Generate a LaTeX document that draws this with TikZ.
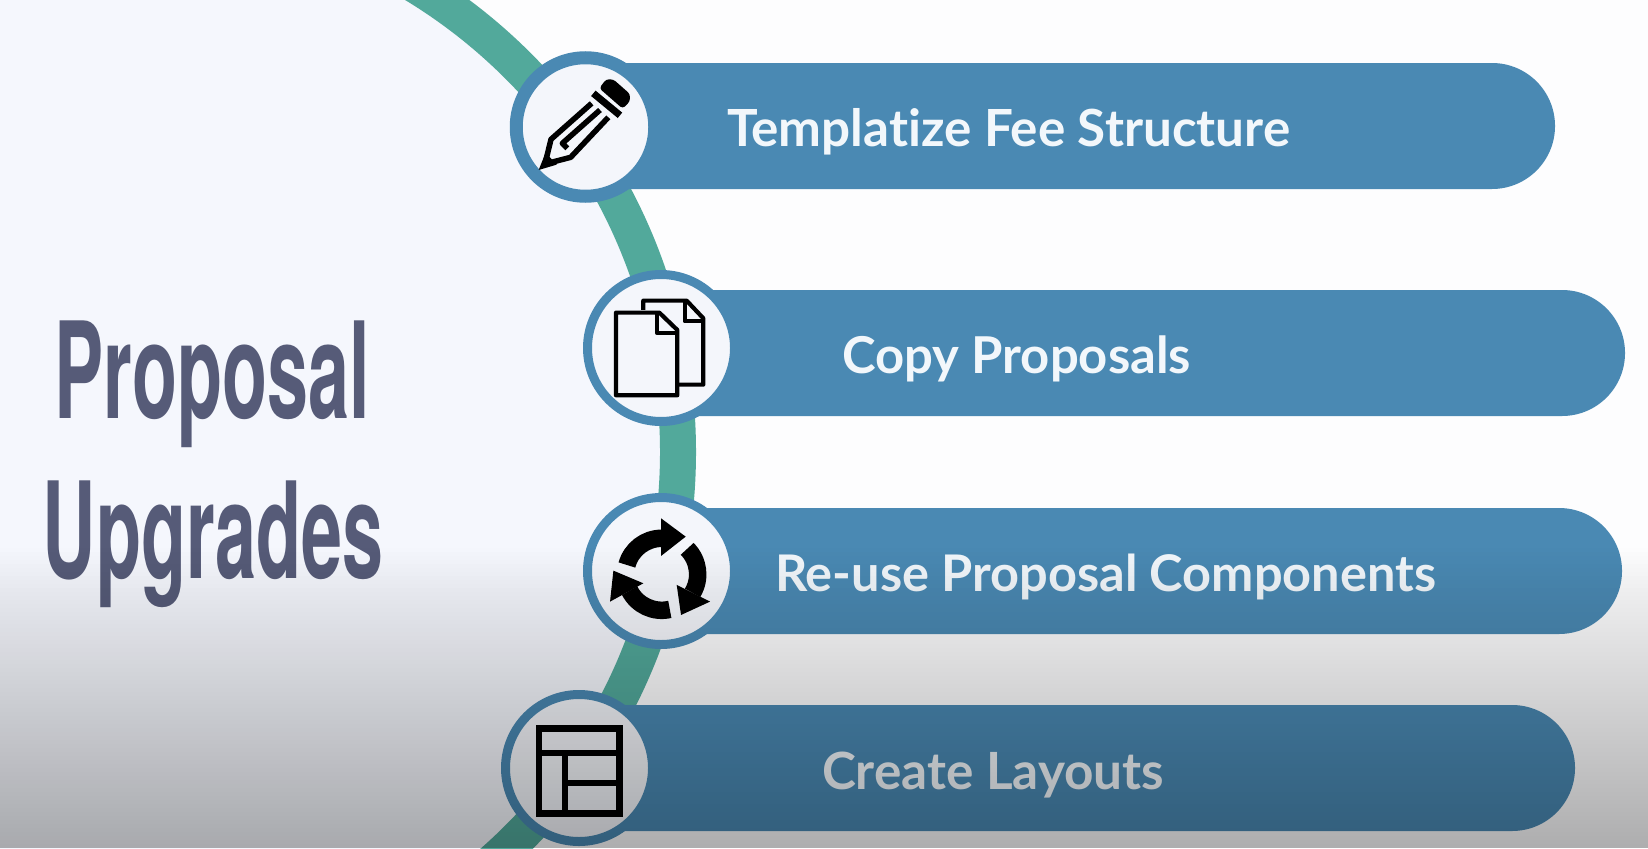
\documentclass[tikz,border=0pt]{standalone}
\usepackage{fontspec}
\usetikzlibrary{shapes.misc}
\newfontfamily\labfont[Ligatures=NoCommon]{Lato}
\newfontfamily\titlefont[FakeStretch=0.55]{TeX Gyre Heros}
\definecolor{bgright}{HTML}{FDFDFE}
\definecolor{bgleft}{HTML}{F5F7FD}
\definecolor{teal}{HTML}{52A99B}
\definecolor{barblue}{HTML}{4A89B3}
\definecolor{disc}{HTML}{F4F6FB}
\definecolor{titlecol}{HTML}{565B78}
\definecolor{labcol}{HTML}{F2F7FB}
\tikzset{
  barshape/.style={rounded rectangle, rounded rectangle left arc=none, fill=barblue, minimum height=126bp, inner sep=0pt, outer sep=0pt},
  ring/.style={circle, draw=barblue, fill=disc, inner sep=0pt, outer sep=0pt},
  barlabel/.style={anchor=base west, inner sep=0pt, outer sep=0pt, text=labcol, font=\labfont\bfseries\fontsize{#1}{60bp}\selectfont},
  titlelabel/.style={anchor=base, inner sep=0pt, outer sep=0pt, text=titlecol, font=\titlefont\bfseries\fontsize{134bp}{150bp}\selectfont},
  iconline/.style={draw=black, line join=round, fill=none}
}
\begin{document}
\begin{tikzpicture}[x=1bp,y=-1bp]
\useasboundingbox (0,0) rectangle (1648,848);
\fill[bgright] (0,0) rectangle (1648,848);
% big circle
\begin{scope}
\clip (0,0) rectangle (1648,848);
\path[fill=bgleft, draw=teal, line width=36bp] (132,452) circle[radius=546bp];
\end{scope}
% bars
\node[barshape, anchor=west, minimum width=969bp] (bar1) at (586,126) {};
\node[barshape, anchor=west, minimum width=964bp] (bar2) at (661,353) {};
\node[barshape, anchor=west, minimum width=961bp] (bar3) at (661,571) {};
\node[barshape, anchor=west, minimum width=996bp] (bar4) at (579,768) {};
% discs
\node[ring, line width=13bp, minimum size=138.5bp] (disc1) at (585.5,127) {};
\node[ring, line width=9bp, minimum size=147bp] (disc2) at (661,348) {};
\node[ring, line width=9bp, minimum size=147bp] (disc3) at (661,571) {};
\node[ring, line width=9bp, minimum size=147bp] (disc4) at (579,768) {};
% labels
\node[barlabel=51.2bp] (lab1) at (727,146) {Templatize Fee Structure};
\node[barlabel=50.8bp] (lab2) at (842,373) {Copy Proposals};
\node[barlabel=50.5bp] (lab3) at (775,591) {Re-use Proposal Components};
\node[barlabel=51.3bp] (lab4) at (822,789) {Create Layouts};
% title
\node[titlelabel] (title1) at (212.5,418) {Proposal};
\node[titlelabel] (title2) at (213,578) {Upgrades};
% pencil icon
\begin{scope}[shift={(480,30)},x=0.3333bp,y=-0.3333bp]
\fill[black, rounded corners=3bp] (358,175) -- (378,148) -- (400,148) -- (450,192) -- (450,214) -- (428,236) -- cycle;
\draw[iconline, line width=7bp] (340,190) -- (420,256);
\draw[iconline, line width=5.5bp] (335,220) -- (213,328) -- (195,402) -- (272,382) -- (385,262);
\draw[iconline, line width=5.5bp] (360,240) -- (247,340) -- (262,355);
\fill[black] (176,420) -- (197,368) -- (230,404) -- cycle;
\end{scope}
% pages icon
\begin{scope}[shift={(480,30)},x=0.3333bp,y=-0.3333bp]
\draw[iconline, line width=4.2bp] (490,840) -- (490,812) -- (620,812) -- (670,865) -- (670,1064) -- (595,1064);
\draw[iconline, line width=4.2bp] (614,814) -- (614,874) -- (670,874);
\draw[iconline, line width=4.2bp] (408,848) -- (538,848) -- (592,900) -- (592,1096) -- (408,1096) -- cycle;
\draw[iconline, line width=4.2bp] (530,850) -- (530,908) -- (592,908);
\end{scope}
% cycle icon
\begin{scope}[shift={(661.7,574.3)},x=0.3333bp,y=0.3333bp]
\draw[black, line width=17.5bp] (165:108) arc[start angle=165,end angle=90,radius=108];
\fill[black] (72,113) -- (-2,168) -- (-2,55) -- cycle;
\draw[black, line width=17.5bp] (45:108) arc[start angle=45,end angle=-31,radius=108];
\fill[black] (58,-122) -- (45,-32) -- (145,-82) -- cycle;
\draw[black, line width=17.5bp] (-77:108) arc[start angle=-77,end angle=-153,radius=108];
\fill[black] (-145,11) -- (-55,-27) -- (-155,-82) -- cycle;
\end{scope}
% layout icon
\begin{scope}[shift={(480,480)},x=0.3333bp,y=-0.3333bp]
\draw[iconline, line width=6.5bp, line join=miter] (177,745) rectangle (418,1000);
\draw[iconline, line width=6.5bp] (177,819) -- (418,819);
\draw[iconline, line width=6.5bp] (255,819) -- (255,1000);
\draw[iconline, line width=6bp] (255,910) -- (418,910);
\end{scope}
% bottom shade over everything
\foreach \yy in {544,548,...,844}{
  \pgfmathsetmacro{\al}{\yy<590 ? (\yy-544)/46*0.06 : 0.06+(\yy-590)*0.00097}
  \fill[black, fill opacity=\al] (0,\yy) rectangle (1648,\yy+4);
}
\end{tikzpicture}
\end{document}
